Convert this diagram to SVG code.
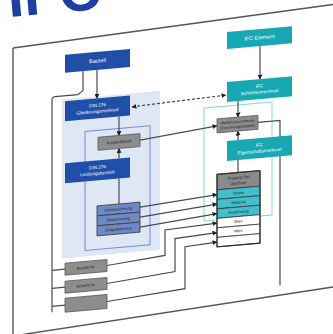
<svg xmlns="http://www.w3.org/2000/svg" width="333" height="334" viewBox="0 0 333 334">
<defs>
<style>
.lab{font-family:"Liberation Sans",Arial,sans-serif;font-size:4.6px;text-anchor:middle}
.w{fill:#ffffff}
.d{fill:#222222}
.blue{fill:#1f4fa6}
.teal{fill:#17a8b4}
.gray{fill:#8d8d8d;stroke:#5a5a5a;stroke-width:0.8}
.ln{fill:none;stroke:#4a4a4a;stroke-width:1.2}
.row{stroke:#3a3a3a;stroke-width:0.8}
</style>
<marker id="ah" viewBox="0 0 10 10" refX="9" refY="5" markerWidth="5" markerHeight="5" markerUnits="userSpaceOnUse" orient="auto-start-reverse">
<path d="M0,0 L10,5 L0,10 z" fill="#222"/>
</marker>
</defs>
<rect width="333" height="334" fill="#ffffff"/>
<text x="9" y="17" transform="rotate(-5 9 17)" font-family="Liberation Sans,Arial,sans-serif" font-weight="bold" font-size="58" fill="#1d40a0">IFC</text>
<g id="frame" fill="none" stroke="#555" stroke-width="1.4">
<path d="M13,48 L333,4.5"/>
<path d="M13,48 V334"/>
<path d="M13,336 L333,287"/>
</g>
<g transform="translate(0,14.87) skewY(-5)">
<g id="panels">
<rect x="62" y="90" width="98" height="159" fill="#dfe7f5"/>
<rect x="85" y="124" width="65" height="119" fill="none" stroke="#6f8fd2" stroke-width="1"/>
<rect x="204" y="111" width="68" height="113" fill="none" stroke="#86d4dd" stroke-width="1"/>
</g>
<g id="connectors">
<path class="ln" d="M97,63.5 V92" marker-end="url(#ah)"/>
<path class="ln" d="M83,63.5 V83 L78,86.5 H55 Q52,86.5 52,90 V302"/>
<path class="ln" d="M52,260 H65 M52,278 H65 M52,296 H65"/>
<path class="ln" d="M119,112 V131" marker-end="url(#ah)"/>
<path class="ln" d="M119,154 V144" marker-end="url(#ah)"/>
<path class="ln" d="M119,174 V199.5"/>
<path class="ln" d="M132,103.5 L226,100" stroke-dasharray="3,2" marker-start="url(#ah)" marker-end="url(#ah)"/>
<path class="ln" d="M260,54 V87" marker-end="url(#ah)"/>
<path class="ln" d="M238,107 V123" marker-end="url(#ah)"/>
<path class="ln" d="M238,146 V137" marker-end="url(#ah)"/>
<path class="ln" d="M238,166 V178.5"/>
<path class="ln" d="M140,137.5 L217,130" marker-end="url(#ah)"/>
<path class="ln" d="M258,130 H280 V295"/>
<path class="ln" d="M140,204.5 L217,198.7" marker-end="url(#ah)"/>
<path class="ln" d="M140,214.5 L217,208.2" marker-end="url(#ah)"/>
<path class="ln" d="M140,224.5 L217,217.7" marker-end="url(#ah)"/>
<path class="ln" d="M107,260 L165,255 V229.5 L217,227.2" marker-end="url(#ah)"/>
<path class="ln" d="M107,278 L175,272 V239 L217,236.7" marker-end="url(#ah)"/>
<path class="ln" d="M107,296 L185,290 V248 L217,246.2" marker-end="url(#ah)"/>
</g>
<g id="bauteil">
<rect class="blue" x="65" y="45.5" width="65" height="18"/>
<text class="lab w" x="97.5" y="56.2" style="font-size:5.5px">Bauteil</text>
</g>
<g id="din-gliederung">
<rect class="blue" x="65" y="92" width="65" height="20"/>
<text class="lab w" x="97.5" y="100.5">DIN 276</text>
<text class="lab w" x="97.5" y="106.5">Gliederungsmerkmal</text>
</g>
<g id="din-leistung">
<rect class="blue" x="65" y="154" width="65" height="20"/>
<text class="lab w" x="97.5" y="162.5">DIN 276</text>
<text class="lab w" x="97.5" y="168.5">Leistungsbereich</text>
</g>
<g id="kostenblock">
<rect class="gray" x="98" y="131" width="42" height="13"/>
<text class="lab d" x="119" y="139">Kostenblock</text>
</g>
<g id="ifc-element">
<rect class="teal" x="227" y="37" width="65" height="17"/>
<text class="lab w" x="259.5" y="47.2" style="font-size:5.5px">IFC Element</text>
</g>
<g id="ifc-schicht">
<rect class="teal" x="227" y="87" width="65" height="20"/>
<text class="lab w" x="259.5" y="95.5">IFC</text>
<text class="lab w" x="259.5" y="101.5">Schichtenmerkmal</text>
</g>
<g id="ifc-eigenschaft">
<rect class="teal" x="227" y="146" width="65" height="20"/>
<text class="lab w" x="259.5" y="154.5">IFC</text>
<text class="lab w" x="259.5" y="160.5">Eigenschaftsmerkmal</text>
</g>
<g id="zuordnung">
<rect class="gray" x="217" y="123" width="41" height="14"/>
<text class="lab d" x="237.5" y="129" style="font-size:4px">Merkmalzuordnung</text>
<text class="lab d" x="237.5" y="134" style="font-size:4px">(Zuordnungstabelle)</text>
</g>
<g id="din-tabelle">
<rect class="row" x="97" y="199.5" width="43" height="10" fill="#6f89c6"/>
<rect class="row" x="97" y="209.5" width="43" height="10" fill="#6f89c6"/>
<rect class="row" x="97" y="219.5" width="43" height="10" fill="#6f89c6"/>
<text class="lab d" x="118.5" y="206" style="font-size:4px">Kennzeichnung</text>
<text class="lab d" x="118.5" y="216" style="font-size:4px">Bezeichnung</text>
<text class="lab d" x="118.5" y="226" style="font-size:4px">Eingabeformat</text>
</g>
<g id="ifc-tabelle">
<rect class="row" x="217" y="178.5" width="43" height="15.5" fill="#8a8a8a"/>
<rect class="row" x="217" y="194" width="43" height="9.5" fill="#3fc0ca"/>
<rect class="row" x="217" y="203.5" width="43" height="9.5" fill="#3fc0ca"/>
<rect class="row" x="217" y="213" width="43" height="9.5" fill="#3fc0ca"/>
<rect class="row" x="217" y="222.5" width="43" height="9.5" fill="#ffffff"/>
<rect class="row" x="217" y="232" width="43" height="9.5" fill="#ffffff"/>
<rect class="row" x="217" y="241.5" width="43" height="9.5" fill="#ffffff"/>
<rect x="217" y="178.5" width="43" height="72.5" fill="none" stroke="#333" stroke-width="1.2"/>
<text class="lab d" x="238.5" y="185" style="font-size:4px">Property Set</text>
<text class="lab d" x="238.5" y="190.5" style="font-size:4px">Attribute</text>
<text class="lab d" x="238.5" y="200.2" style="font-size:4px">Name</text>
<text class="lab d" x="238.5" y="209.7" style="font-size:4px">Material</text>
<text class="lab d" x="238.5" y="219.2" style="font-size:4px">Ausführung</text>
<text class="lab d" x="238.5" y="228.7" style="font-size:4px">Wert</text>
<text class="lab d" x="238.5" y="238.2" style="font-size:4px">Wert</text>
<text class="lab d" x="238.5" y="247.7" style="font-size:4px">...</text>
</g>
<g id="bauteil-nr">
<rect class="gray" x="65" y="254" width="42" height="12"/>
<text class="lab d" x="86" y="261.5" style="font-size:4px">Bauteil-Nr.</text>
</g>
<g id="schicht-nr">
<rect class="gray" x="65" y="272" width="42" height="12"/>
<text class="lab d" x="86" y="279.5" style="font-size:4px">Schicht-Nr.</text>
</g>
<g id="leer">
<rect class="gray" x="65" y="289" width="42" height="14"/>
</g>
</g>
</svg>
